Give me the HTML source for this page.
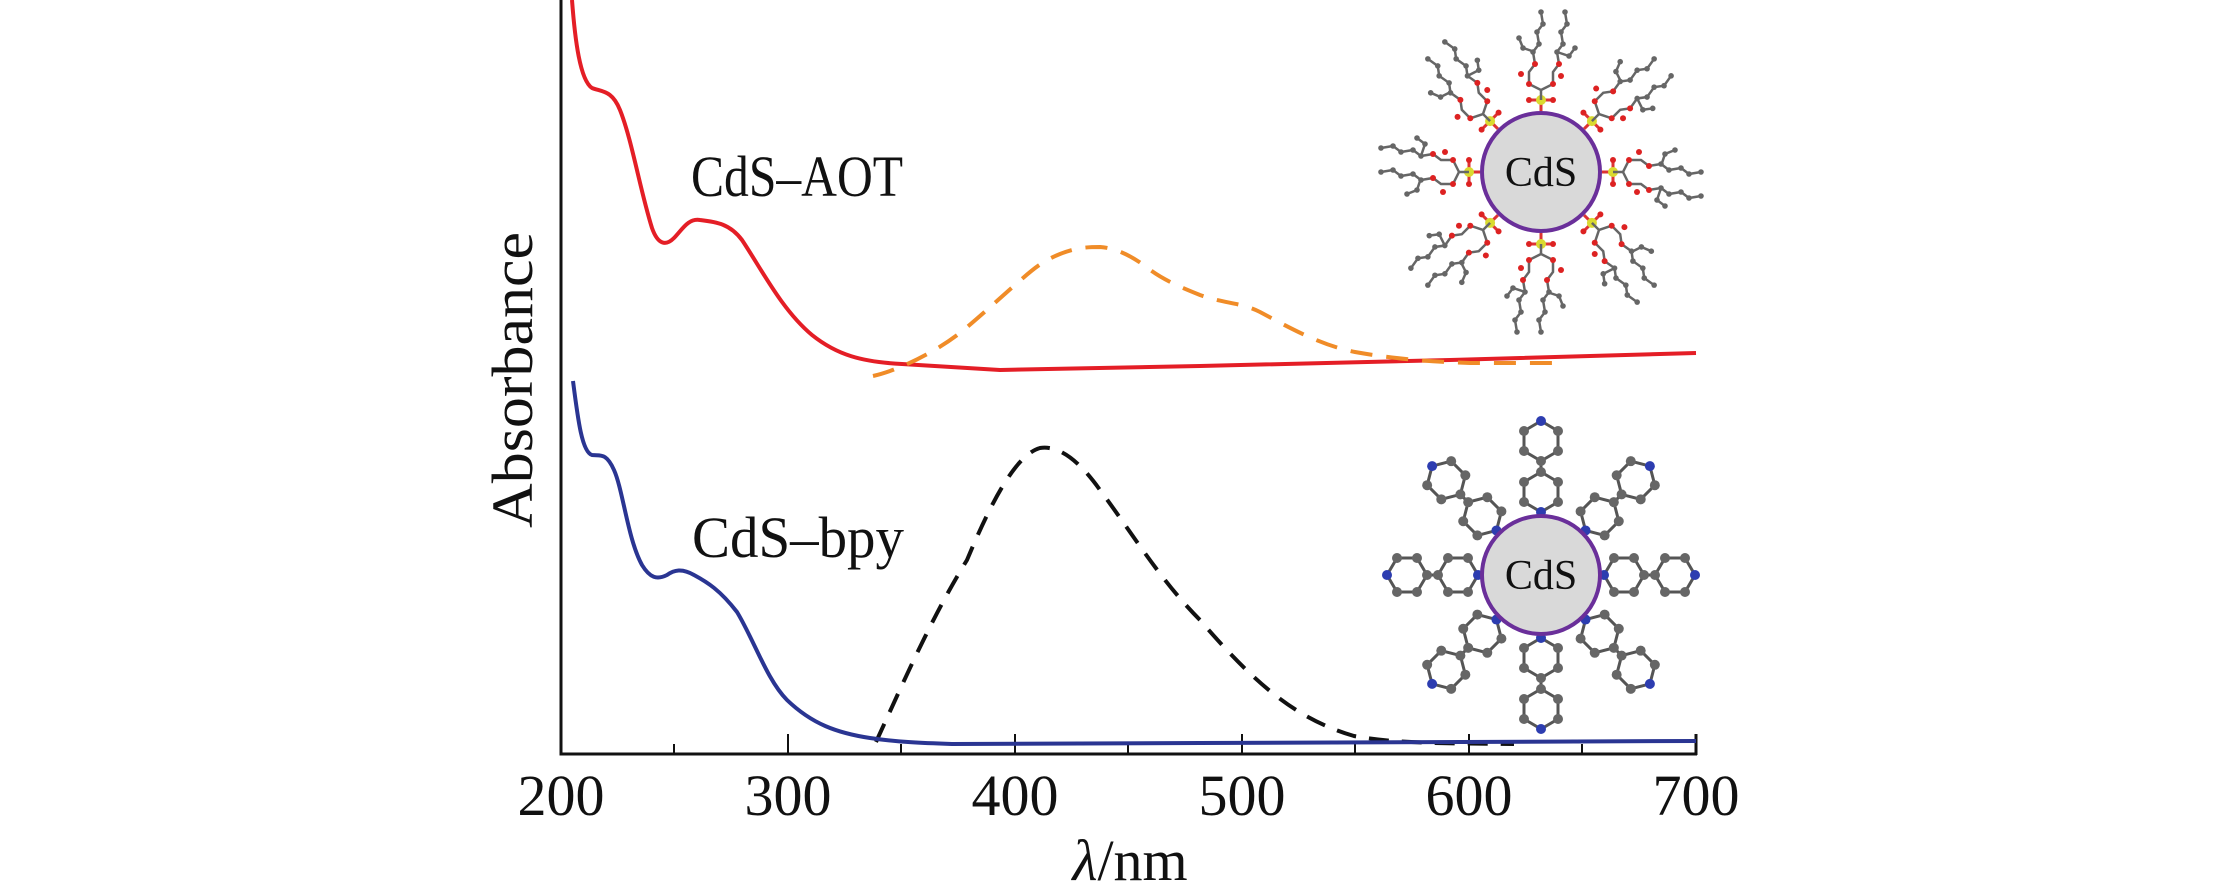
<!DOCTYPE html>
<html><head><meta charset="utf-8"><style>
html,body{margin:0;padding:0;background:#fff;}
svg{display:block;}
text{font-family:"Liberation Serif",serif;fill:#111;}
</style></head><body>
<svg width="2213" height="886" viewBox="0 0 2213 886" xmlns="http://www.w3.org/2000/svg">
<defs>
  <g id="bpy">
    <g fill="none" stroke="#555" stroke-width="3">
      <polygon points="0,-63 17,-73 17,-93 0,-103 -17,-93 -17,-73"/>
      <line x1="0" y1="-103" x2="0" y2="-114"/>
      <polygon points="0,-114 17,-124 17,-144 0,-154 -17,-144 -17,-124"/>
    </g>
    <g fill="#666">
      <circle cx="17" cy="-73" r="5"/><circle cx="17" cy="-93" r="5"/><circle cx="0" cy="-103" r="5"/>
      <circle cx="-17" cy="-93" r="5"/><circle cx="-17" cy="-73" r="5"/>
      <circle cx="0" cy="-114" r="5"/><circle cx="17" cy="-124" r="5"/><circle cx="17" cy="-144" r="5"/>
      <circle cx="-17" cy="-144" r="5"/><circle cx="-17" cy="-124" r="5"/>
    </g>
    <circle cx="0" cy="-63" r="5" fill="#2d3db0"/>
    <circle cx="0" cy="-154" r="5" fill="#2d3db0"/>
  </g>
  <g id="aot">
    <line x1="0" y1="-61" x2="0" y2="-72" stroke="#d33" stroke-width="3"/>
    <line x1="-12" y1="-72" x2="12" y2="-72" stroke="#d33" stroke-width="3"/>
    <circle cx="0" cy="-72" r="5" fill="#dada30"/>
    <circle cx="-12" cy="-72" r="3" fill="#d22"/><circle cx="12" cy="-72" r="3" fill="#d22"/>
    <polyline points="0,-72 0,-82 -12,-88 -12,-100 -6,-108 -8,-120 -2,-128 -4,-140 2,-148 0,-160" fill="none" stroke="#666" stroke-width="2.5"/>
    <polyline points="0,-82 12,-88 12,-100 18,-108 16,-120 22,-128 20,-140 26,-148 24,-160" fill="none" stroke="#666" stroke-width="2.5"/>
    <polyline points="-6,-120 -18,-124 -22,-134" fill="none" stroke="#666" stroke-width="2.5"/>
    <polyline points="16,-120 28,-116 34,-124" fill="none" stroke="#666" stroke-width="2.5"/>
    <g fill="#666">
      <circle cx="-8" cy="-120" r="2.8"/><circle cx="-2" cy="-128" r="2.8"/><circle cx="-4" cy="-140" r="2.8"/><circle cx="2" cy="-148" r="2.8"/><circle cx="0" cy="-160" r="2.8"/>
      <circle cx="16" cy="-120" r="2.8"/><circle cx="22" cy="-128" r="2.8"/><circle cx="20" cy="-140" r="2.8"/><circle cx="26" cy="-148" r="2.8"/><circle cx="24" cy="-160" r="2.8"/>
      <circle cx="-18" cy="-124" r="2.8"/><circle cx="-22" cy="-134" r="2.8"/><circle cx="28" cy="-116" r="2.8"/><circle cx="34" cy="-124" r="2.8"/>
    </g>
    <g fill="#d22">
      <circle cx="-12" cy="-88" r="3"/><circle cx="12" cy="-88" r="3"/><circle cx="-6" cy="-108" r="3"/><circle cx="18" cy="-108" r="3"/><circle cx="-20" cy="-98" r="3"/><circle cx="20" cy="-96" r="3"/>
    </g>
  </g>
</defs>

<!-- axes -->
<g stroke="#111" stroke-width="3" fill="none">
  <line x1="561" y1="0" x2="561" y2="755"/>
  <line x1="559.5" y1="754" x2="1697" y2="754"/>
  <line x1="1696" y1="734" x2="1696" y2="755"/>
</g>
<g stroke="#111" stroke-width="2">
  <line x1="674" y1="754" x2="674" y2="744"/>
  <line x1="788" y1="754" x2="788" y2="734"/>
  <line x1="901" y1="754" x2="901" y2="744"/>
  <line x1="1015" y1="754" x2="1015" y2="734"/>
  <line x1="1128" y1="754" x2="1128" y2="744"/>
  <line x1="1242" y1="754" x2="1242" y2="734"/>
  <line x1="1355" y1="754" x2="1355" y2="744"/>
  <line x1="1469" y1="754" x2="1469" y2="734"/>
  <line x1="1582" y1="754" x2="1582" y2="744"/>
</g>
<g font-size="58" text-anchor="middle">
  <text x="561" y="815">200</text>
  <text x="788" y="815">300</text>
  <text x="1015" y="815">400</text>
  <text x="1242" y="815">500</text>
  <text x="1469" y="815">600</text>
  <text x="1696" y="815">700</text>
</g>
<text x="1130" y="880" font-size="58" text-anchor="middle"><tspan font-style="italic">λ</tspan>/nm</text>
<text transform="translate(532,380) rotate(-90)" font-size="58" text-anchor="middle" textLength="296" lengthAdjust="spacingAndGlyphs">Absorbance</text>

<text x="691" y="196" font-size="58" textLength="212" lengthAdjust="spacingAndGlyphs">CdS–AOT</text>
<text x="692" y="557" font-size="58" textLength="212" lengthAdjust="spacingAndGlyphs">CdS–bpy</text>

<!-- red -->
<path d="M572,0 C575,40 580,80 592,88 C602,92 612,90 620,110 C632,140 640,190 652,228 C658,245 666,246 674,238 C682,230 688,218 700,220 C717,222 730,224 742,240 C762,270 782,310 812,335 C837,355 862,362 902,364 L1000,370 L1200,366 L1450,360 L1696,353" fill="none" stroke="#e41e26" stroke-width="4"/>
<!-- orange dashed -->
<path d="M873,376 C900,370 940,350 966,328 C985,312 1000,298 1015,285 C1030,272 1040,262 1060,254 C1075,248 1085,247 1100,247 C1115,248 1130,255 1145,266 C1160,278 1175,285 1200,295 C1225,304 1240,302 1260,312 C1290,328 1320,345 1355,352 C1400,360 1440,362 1470,363 L1557,363" fill="none" stroke="#f08c28" stroke-width="4" stroke-dasharray="22,14"/>
<!-- black dashed -->
<path d="M876,742 C900,690 930,620 967,560 C990,505 1015,455 1040,448 C1060,445 1080,462 1100,490 C1130,530 1160,580 1200,620 C1260,690 1300,720 1354,736 C1400,744 1440,743 1514,744" fill="none" stroke="#111" stroke-width="4" stroke-dasharray="20,13"/>
<!-- blue -->
<path d="M573,381 C578,420 582,452 592,455 C600,456 606,452 614,470 C623,490 628,540 642,565 C650,578 657,580 667,575 C674,570 682,568 694,575 C707,582 720,590 737,612 C754,640 767,680 787,700 C812,724 837,733 870,738 C897,742 922,743 952,744 L1200,743 L1696,741" fill="none" stroke="#2a3592" stroke-width="4"/>

<!-- AOT inset -->
<g transform="translate(1541,172)">
  <use href="#aot" transform="rotate(0)"/>
  <use href="#aot" transform="rotate(45)"/>
  <use href="#aot" transform="rotate(90)"/>
  <use href="#aot" transform="rotate(135)"/>
  <use href="#aot" transform="rotate(180)"/>
  <use href="#aot" transform="rotate(225)"/>
  <use href="#aot" transform="rotate(270)"/>
  <use href="#aot" transform="rotate(315)"/>
  <circle r="59" fill="#d9d9d9" stroke="#6a2f9a" stroke-width="4"/>
  <text x="0" y="14" font-size="42" text-anchor="middle">CdS</text>
</g>
<!-- bpy inset -->
<g transform="translate(1541,575)">
  <use href="#bpy" transform="rotate(0)"/>
  <use href="#bpy" transform="rotate(45)"/>
  <use href="#bpy" transform="rotate(90)"/>
  <use href="#bpy" transform="rotate(135)"/>
  <use href="#bpy" transform="rotate(180)"/>
  <use href="#bpy" transform="rotate(225)"/>
  <use href="#bpy" transform="rotate(270)"/>
  <use href="#bpy" transform="rotate(315)"/>
  <circle r="59" fill="#d9d9d9" stroke="#6a2f9a" stroke-width="4"/>
  <text x="0" y="14" font-size="42" text-anchor="middle">CdS</text>
</g>
</svg>
</body></html>
